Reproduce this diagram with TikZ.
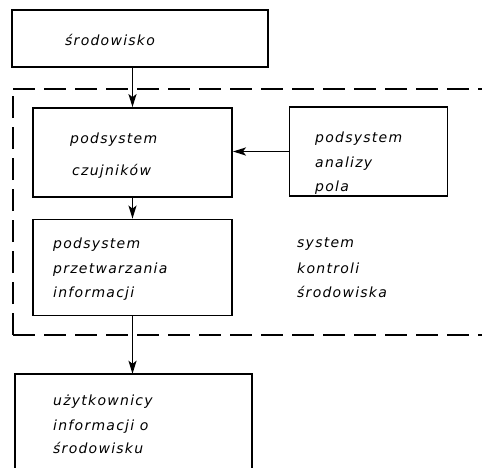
\documentclass[tikz,border=0pt]{standalone}
\usepackage{fontspec}
\setmainfont{DejaVu Sans}[LetterSpace=9]
\usetikzlibrary{arrows.meta}
\tikzset{
  box/.style={draw, line width=1.8pt, rectangle, inner sep=0pt},
  lbl/.style={anchor=base west, inner sep=0pt, font=\itshape\fontsize{14}{16}\selectfont},
  arr/.style={line width=1.8pt, -{Stealth[length=13pt, width=8pt, inset=3pt]}},
  dsh/.style={line width=1.7pt, dash pattern=on 22pt off 9pt}
}
\begin{document}
\begin{tikzpicture}[x=1pt,y=-1pt]
\useasboundingbox (0,0) rectangle (482,467);
\clip (0,0) rectangle (482,467);
\fill[white] (0,0) rectangle (482,467);
% dashed system boundary
\coordinate (tl) at (13,89);
\coordinate (tr) at (482,89);
\coordinate (bl) at (13,335);
\coordinate (br) at (482,335);
\draw[dsh] (tl) -- (tr);
\draw[dsh] (bl) -- (tl);
\draw[dsh] (bl) -- (br);
% boxes
\node[box, minimum width=256pt, minimum height=57pt] (b1) at (140,38.5) {};
\node[box, minimum width=199pt, minimum height=89pt] (b2) at (132.5,152.5) {};
\node[box, minimum width=158pt, minimum height=89pt] (b3) at (368.5,151.5) {};
\node[box, minimum width=199pt, minimum height=96pt] (b4) at (132.5,267.5) {};
\node[minimum width=237pt, minimum height=100pt, inner sep=0pt] (b5) at (133.5,424) {};
\draw[line width=1.8pt] (b5.south west) -- (b5.north west) -- (b5.north east) -- (b5.south east);
% texts
\node[lbl] (t1) at (65,45) {środowisko};
\node[lbl] (t2a) at (70,143) {podsystem};
\node[lbl] (t2b) at (72,175) {czujników};
\node[lbl] (t3a) at (315,142) {podsystem};
\node[lbl] (t3b) at (315,167) {analizy};
\node[lbl] (t3c) at (315,191) {pola};
\node[lbl] (t4a) at (53,248) {podsystem};
\node[lbl] (t4b) at (53,273) {przetwarzania};
\node[lbl] (t4c) at (53,297) {informacji};
\node[lbl] (t6a) at (297,247) {system};
\node[lbl] (t6b) at (297,273) {kontroli};
\node[lbl] (t6c) at (297,297) {środowiska};
\node[lbl] (t5a) at (53,405) {użytkownicy};
\node[lbl] (t5b) at (53,430) {informacji o};
\node[lbl] (t5c) at (53,453) {środowisku};
% connectors
\draw[arr] (b2.north |- b1.south) -- (b2.north);
\draw[arr] (b2.south) -- (b4.north);
\draw[arr] (b3.west) -- (b3.west -| b2.east);
\draw[arr] (b4.south) -- (b4.south |- b5.north);
\end{tikzpicture}
\end{document}
